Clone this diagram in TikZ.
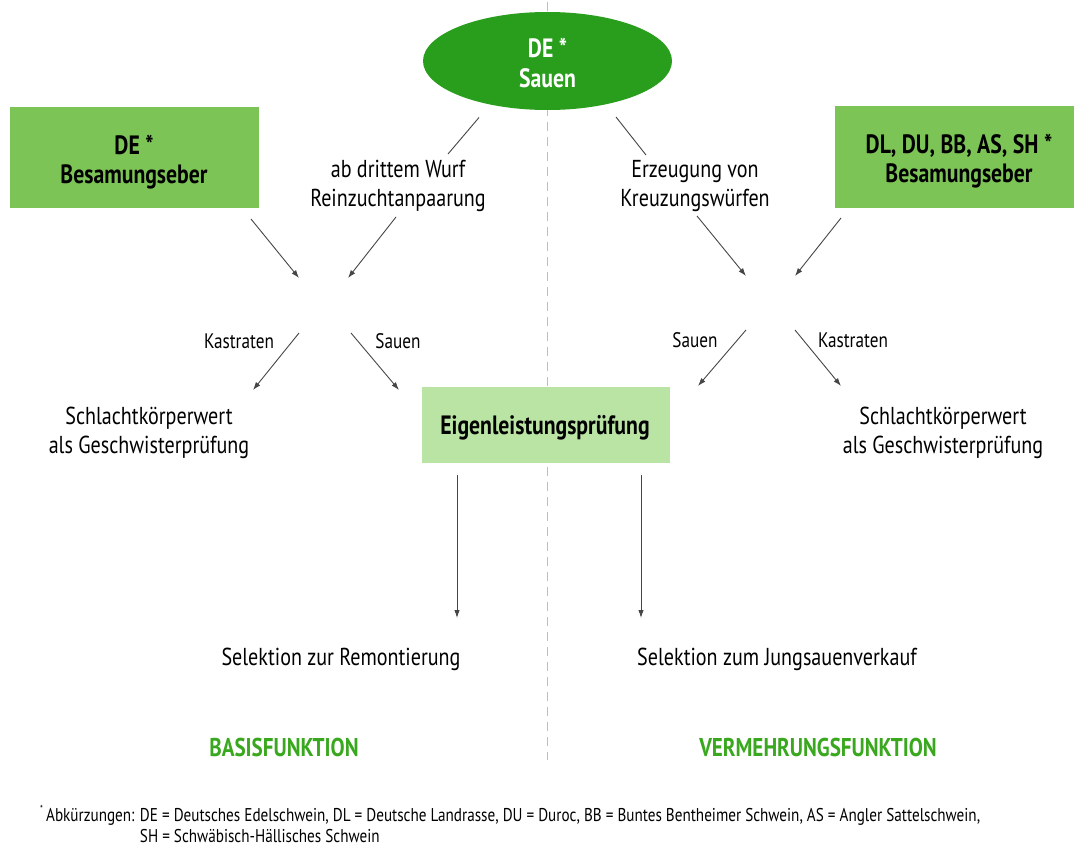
\documentclass[tikz,border=0pt]{standalone}
\usepackage{fontspec}
\setmainfont{PT Sans}[FakeStretch=0.82]
\usetikzlibrary{shapes.geometric,arrows.meta}
\definecolor{darkgreen}{RGB}{40,158,28}
\definecolor{midgreen}{RGB}{125,196,86}
\definecolor{lightgreen}{RGB}{186,228,164}
\definecolor{titlegreen}{RGB}{58,168,30}
\definecolor{linegray}{RGB}{70,70,70}
\definecolor{dashgray}{RGB}{190,190,190}
\tikzset{
  lbl/.style={align=center,font=\fontsize{24.5}{29}\selectfont,inner sep=0pt},
  small/.style={font=\fontsize{21}{24}\selectfont,inner sep=0pt},
  boxhead/.style={align=center,font=\bfseries\fontsize{26.5}{29}\selectfont,inner sep=0pt},
  conn/.style={draw=linegray,line width=0.9pt},
  arr/.style={conn,-{Latex[length=8pt,width=5.5pt]}},
  func/.style={font=\bfseries\fontsize{25.7}{28}\selectfont,text=titlegreen,inner sep=0pt}
}
\begin{document}
\begin{tikzpicture}[x=1pt,y=-1pt]
\useasboundingbox (0,0) rectangle (1074,848);
\fill[white] (0,0) rectangle (1074,848);
% dashed divider
\draw[dashgray,line width=0.8pt,dash pattern=on 9pt off 6pt] (547,2) -- (547,760);
% top ellipse
\node[ellipse,fill=darkgreen,minimum width=249pt,minimum height=98pt,inner sep=0pt] (sow) at (547.5,61) {};
\node[boxhead,text=white,font=\bfseries\fontsize{26.5}{30}\selectfont] (sowtxt) at (547.5,63) {DE *\\Sauen};
% boars boxes
\node[fill=midgreen,minimum width=249pt,minimum height=101pt,inner sep=0pt] (lbox) at (134.5,157.5) {};
\node[boxhead] (ltxt) at (134,162) {DE *\\Besamungseber};
\node[fill=midgreen,minimum width=240pt,minimum height=101pt,inner sep=0pt] (rbox) at (955,157) {};
\node[boxhead] (rtxt) at (959,161) {DL, DU, BB, AS, SH *\\Besamungseber};
% mating labels
\node[lbl] (pure) at (398,186) {ab drittem Wurf\\Reinzuchtanpaarung};
\node[lbl] (cross) at (695,186) {Erzeugung von\\Kreuzungswürfen};
% coordinates
\coordinate (sl) at (479,117.5);
\coordinate (plt) at (448,154);
\coordinate (sr) at (616,117);
\coordinate (crt) at (646,155);
\coordinate (lb1) at (251,219);
\coordinate (lm1) at (299,278);
\coordinate (pb) at (396,217);
\coordinate (lm2) at (348,278);
\coordinate (lo1) at (299,333);
\coordinate (le1) at (253,390);
\coordinate (lo2) at (351,333);
\coordinate (le2) at (399,390);
\coordinate (cb) at (697,216);
\coordinate (rm1) at (746,276);
\coordinate (rb1) at (841,218);
\coordinate (rm2) at (795,276);
\coordinate (ro1) at (746,330);
\coordinate (re1) at (698,386);
\coordinate (ro2) at (795,330);
\coordinate (re2) at (841,386);
% lines from sows
\draw[conn] (sl) -- (plt);
\draw[conn] (sr) -- (crt);
% arrows in
\draw[arr] (lb1) -- (lm1);
\draw[arr] (pb) -- (lm2);
\draw[arr] (cb) -- (rm1);
\draw[arr] (rb1) -- (rm2);
% arrows out
\draw[arr] (lo1) -- (le1);
\draw[arr] (lo2) -- (le2);
\draw[arr] (ro1) -- (re1);
\draw[arr] (ro2) -- (re2);
% small labels
\node[small] (kl) at (239,341) {Kastraten};
\node[small] (sl2) at (398,341) {Sauen};
\node[small] (sr2) at (695,340) {Sauen};
\node[small] (kr) at (853,340) {Kastraten};
% outcomes
\node[lbl] (schl) at (149,433) {Schlachtkörperwert\\als Geschwisterprüfung};
\node[lbl] (schr) at (943,433) {Schlachtkörperwert\\als Geschwisterprüfung};
\node[fill=lightgreen,minimum width=248pt,minimum height=76pt,inner sep=0pt] (elp) at (546,424.5) {};
\node[boxhead] (elptxt) at (545,428) {Eigenleistungsprüfung};
\coordinate (ea) at (457,475);
\coordinate (eb) at (641,475);
\node[lbl] (rem) at (341,659) {Selektion zur Remontierung};
\node[lbl] (jung) at (777,659) {Selektion zum Jungsauenverkauf};
\coordinate (ra) at (457,618);
\coordinate (rb) at (641,618);
\draw[arr] (ea) -- (ra);
\draw[arr] (eb) -- (rb);
% functions
\node[func] (basis) at (284,747) {BASISFUNKTION};
\node[func] (verm) at (818,747) {VERMEHRUNGSFUNKTION};
% footnote
\node[anchor=west,inner sep=0pt,font=\fontsize{18.5}{21}\selectfont,align=left] (foot) at (40,824)
{\raisebox{0.45em}{\fontsize{10}{10}\selectfont *}\,Abkürzungen: DE = Deutsches Edelschwein, DL = Deutsche Landrasse, DU = Duroc, BB = Buntes Bentheimer Schwein, AS = Angler Sattelschwein,\\
\hphantom{\raisebox{0.45em}{\fontsize{10}{10}\selectfont *}\,Abkürzungen: }SH = Schwäbisch-Hällisches Schwein};
\end{tikzpicture}
\end{document}
